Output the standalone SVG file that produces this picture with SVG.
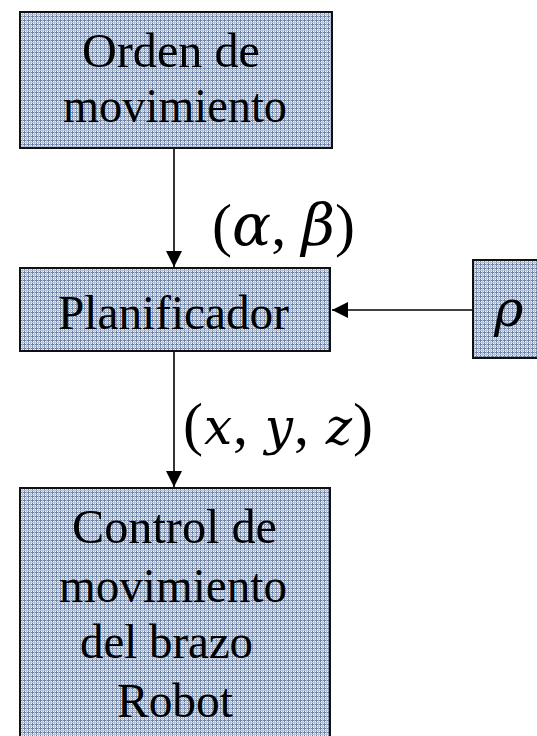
<svg xmlns="http://www.w3.org/2000/svg" width="537" height="736" viewBox="0 0 537 736">
<style>
.box{fill:url(#grid);stroke:#111;stroke-width:2}
.t{font-family:"Liberation Serif","Times New Roman",serif;font-size:48px;fill:#000}
.m{font-family:"Liberation Serif","Times New Roman",serif;font-size:60px;fill:#000}
.i{font-family:"DejaVu Serif",serif;font-style:italic;font-size:50px}
.g{font-size:58px}
.c{stroke:#000;stroke-width:1.6;fill:none}
</style>
<defs>
<pattern id="grid" width="4" height="4" patternUnits="userSpaceOnUse">
<rect width="4" height="4" fill="#eef1f6"/>
<rect x="0" y="0" width="1" height="4" fill="#6a83ab"/>
<rect x="0" y="0" width="4" height="1" fill="#6a83ab"/>
<rect x="2" y="0" width="1" height="4" fill="#b3c0d6"/>
<rect x="0" y="2" width="4" height="1" fill="#b3c0d6"/>
</pattern>
<marker id="ah" viewBox="0 0 10 10" refX="10" refY="5" markerWidth="16" markerHeight="16" markerUnits="userSpaceOnUse" orient="auto">
<path d="M0,0 L10,5 L0,10 z" fill="#000"/>
</marker>
</defs>
<g id="connectors">
<line class="c" x1="174" y1="149" x2="174" y2="267" marker-end="url(#ah)"/>
<line class="c" x1="174" y1="352" x2="174" y2="487" marker-end="url(#ah)"/>
<line class="c" x1="473" y1="310" x2="332" y2="310" marker-end="url(#ah)"/>
</g>
<g id="orden">
<rect class="box" x="20" y="12" width="312" height="136"/>
<text class="t" x="82" y="67" textLength="178" lengthAdjust="spacingAndGlyphs">Orden de</text>
<text class="t" x="63" y="122" textLength="224" lengthAdjust="spacingAndGlyphs">movimiento</text>
</g>
<g id="label-ab">
<text class="m" x="212" y="245" textLength="143" lengthAdjust="spacing">(<tspan class="i g">α</tspan>, <tspan class="i g">β</tspan>)</text>
</g>
<g id="planificador">
<rect class="box" x="20" y="268" width="310" height="83"/>
<text class="t" x="58" y="329" textLength="231" lengthAdjust="spacingAndGlyphs">Planificador</text>
</g>
<g id="rho">
<rect class="box" x="473" y="260" width="70" height="98"/>
<text class="m i" x="494" y="326">ρ</text>
</g>
<g id="label-xyz">
<text class="m" x="183" y="444" textLength="190" lengthAdjust="spacing">(<tspan class="i">x</tspan>, <tspan class="i">y</tspan>, <tspan class="i">z</tspan>)</text>
</g>
<g id="control">
<rect class="box" x="20" y="488" width="310" height="260"/>
<text class="t" x="72" y="543" textLength="205" lengthAdjust="spacingAndGlyphs">Control de</text>
<text class="t" x="59" y="602" textLength="228" lengthAdjust="spacingAndGlyphs">movimiento</text>
<text class="t" x="80" y="658" textLength="173" lengthAdjust="spacingAndGlyphs">del brazo</text>
<text class="t" x="117" y="717" textLength="116" lengthAdjust="spacingAndGlyphs">Robot</text>
</g>
</svg>
